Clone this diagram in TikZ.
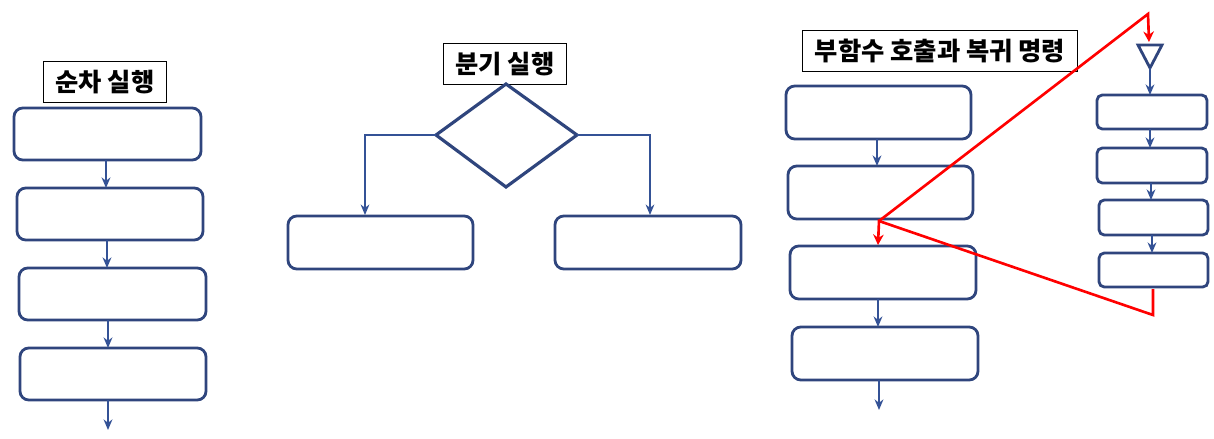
\documentclass[tikz,border=0pt]{standalone}
\usepackage{fontspec}
\setmainfont{Noto Sans CJK KR}
\usetikzlibrary{arrows.meta}
\definecolor{boxblue}{RGB}{47,69,125}
\definecolor{lineblue}{RGB}{52,82,150}
\tikzset{
  stepbox/.style={draw=boxblue, line width=1.6pt, rounded corners=5pt},
  titlebox/.style={draw=black, line width=0.5pt, fill=white, inner xsep=7pt, inner ysep=5pt, font=\bfseries\Large},
  flow/.style={-{Stealth[length=6pt,width=5pt]}, draw=lineblue, line width=1.3pt},
  thin/.style={-{Stealth[length=6pt,width=5pt]}, draw=lineblue, line width=0.8pt},
  callline/.style={draw=red, line width=1.5pt},
}
\begin{document}
\begin{tikzpicture}[x=0.02cm, y=-0.02cm]
\useasboundingbox (0,0) rectangle (1214,439);
% sequential
\node[titlebox] (t1) at (105,82) {순차 실행};
\draw[stepbox] (14,108) rectangle (201,160);
\draw[stepbox] (17,188) rectangle (203,240);
\draw[stepbox] (19,268) rectangle (206,320);
\draw[stepbox] (20,348) rectangle (206,400);
\draw[flow] (106,160) -- (106,188);
\draw[flow] (107,240) -- (107,268);
\draw[flow] (108,320) -- (108,348);
\draw[flow] (108,400) -- (108,430);
% branch
\node[titlebox] (t2) at (505,64) {분기 실행};
\draw[boxblue, line width=1.8pt] (506,84) coordinate (dt) -- (577,135) coordinate (dr)
  -- (506,187) -- (436,135) coordinate (dl) -- cycle;
\draw[stepbox] (288,216) rectangle (473,269);
\draw[stepbox] (555,216) rectangle (741,269);
\draw[thin] (dl) -- (365,135) -- (365,215);
\draw[thin] (dr) -- (650,135) -- (650,215);
% call and return
\node[titlebox] (t3) at (940,51) {부함수 호출과 복귀 명령};
\draw[stepbox] (786,86) rectangle (971,139);
\draw[stepbox] (788,166) rectangle (973,219);
\draw[stepbox] (790,246) rectangle (976,299);
\draw[stepbox] (792,327) rectangle (978,380);
\draw[flow] (877,139) -- (877,166);
\draw[flow] (878,299) -- (878,327);
\draw[flow] (879,380) -- (879,410);
\draw[stepbox, rounded corners=3pt] (1097,95) rectangle (1207,129);
\draw[stepbox, rounded corners=3pt] (1097,148) rectangle (1207,183);
\draw[stepbox, rounded corners=3pt] (1099,200) rectangle (1208,235);
\draw[stepbox, rounded corners=3pt] (1099,253) rectangle (1208,287);
\draw[boxblue, line width=1.6pt] (1138,45) -- (1162,45) -- (1150,68) -- cycle;
\draw[flow] (1150,68) -- (1150,95);
\draw[flow] (1150,129) -- (1150,148);
\draw[flow] (1151,183) -- (1151,200);
\draw[flow] (1152,235) -- (1152,253);
\draw[callline, -{Stealth[length=6pt,width=6pt]}] (879,221) -- (1148,14) -- (1149,42);
\draw[callline, -{Stealth[length=6pt,width=6pt]}] (1153,289) -- (1153,315) -- (879,221) -- (878,245);
\end{tikzpicture}
\end{document}
